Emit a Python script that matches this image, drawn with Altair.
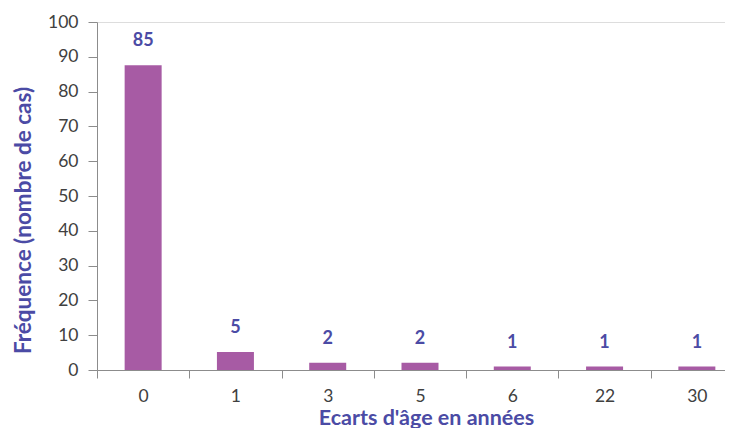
import altair as alt
import pandas as pd

categories = ["0", "1", "3", "5", "6", "22", "30"]
bar_values = [87.6, 5.2, 2.1, 2.1, 1.0, 1.0, 1.0]
label_values = ["85", "5", "2", "2", "1", "1", "1"]

df = pd.DataFrame({"cat": categories, "val": bar_values, "lab": label_values})

BAR = "#A75BA4"
BLUE = "#4B4BA5"
GREY = "#404040"
AX = "#8C8C8C"
FONT = "Lato"

x = alt.X("cat:N", sort=categories,
          scale=alt.Scale(range=[0, 646], paddingInner=0, paddingOuter=0),
          axis=alt.Axis(title="Ecarts d'âge en années", labelAngle=0,
                        labelFontSize=17.5, labelColor=GREY, labelFont=FONT, labelPadding=9,
                        tickBand="extent", tickSize=8, tickColor=AX, domainColor=AX,
                        titleFont=FONT, titleFontSize=21.5, titleFontWeight="bold",
                        titleColor=BLUE, titleX=329, titleY=54,
                        titleBaseline="alphabetic", titleAlign="center"))

y = alt.Y("val:Q", scale=alt.Scale(domain=[0, 100], nice=False),
          axis=alt.Axis(title="Fréquence (nombre de cas)", values=list(range(0, 101, 10)),
                        grid=False, labelFontSize=17.5, labelColor=GREY, labelFont=FONT,
                        labelPadding=10, tickSize=9, tickColor=AX, domainColor=AX,
                        titleFont=FONT, titleFontSize=22.5, titleFontWeight="bold",
                        titleColor=BLUE, titleAngle=270, titleBaseline="middle",
                        titleAlign="center", titleX=-74, titleY=198))

bars = alt.Chart(df).mark_bar(color=BAR, size=37).encode(x=x, y=y)
text = alt.Chart(df).mark_text(dy=-24, baseline="middle", fontSize=18, fontWeight="bold",
                               color=BLUE, font=FONT).encode(x=x, y=y, text="lab:N")

chart = (bars + text).properties(
    width=628, height=348,
    autosize=alt.AutoSizeParams(type="none"),
    padding={"left": 89, "top": 14, "right": 0, "bottom": 58},
).configure_view(stroke=None).configure(background="white")

chart.save("out.html", embed_options={"renderer": "svg", "actions": False})
